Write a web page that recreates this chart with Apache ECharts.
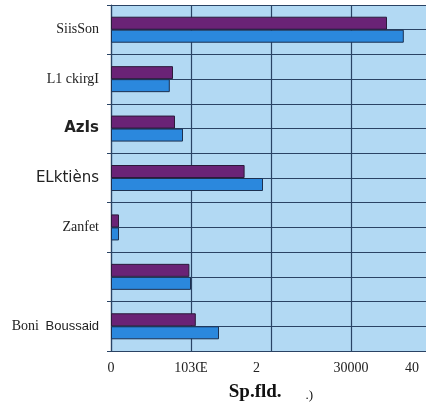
<!DOCTYPE html>
<html><head><meta charset="utf-8">
<script src="https://cdn.jsdelivr.net/npm/echarts@6/dist/echarts.min.js"></script>
<style>html,body{margin:0;padding:0;background:#fff}#c{width:426px;height:404px}</style>
</head><body><div id="c"></div>
<script>
const categories = ["SiisSon", "L1 ckirgI", "AzIs", "ELktièns", "Zanfet", "", "Boni Boussaid"];
const purpleValues = [34500, 7750, 8000, 16700, 1000, 9800, 10600];
const blueValues = [36600, 7350, 9000, 19000, 1000, 10000, 13500];
const tickLabels = ["0", "103Œ", "2", "30000", "40"];
const axisTitle = "Sp.fld.";
const axisTitleSuffix = ".)";
const labelStyleKeys = ["serif", "serif", "sansb", "sans", "serif", "serif", "mixed"];

const chart = echarts.init(document.getElementById('c'), null, {renderer: 'canvas'});
const gridColor = '#2a4364';
const serif = '"Liberation Serif", "DejaVu Serif", serif';
const sans = '"DejaVu Sans", "Liberation Sans", sans-serif';

chart.setOption({
  animation: false,
  backgroundColor: '#ffffff',
  grid: {left: 111, top: 5, width: 320, height: 346, outerBoundsMode: 'none', containLabel: false,
         show: true, backgroundColor: '#b2d9f3', borderWidth: 0},
  xAxis: {
    type: 'value', min: 0, max: 40000, interval: 10000,
    axisLine: {show: true, lineStyle: {color: gridColor, width: 1.2}},
    axisTick: {show: true, length: 4, lineStyle: {color: gridColor}},
    splitLine: {show: true, lineStyle: {color: gridColor, width: 1.2}},
    axisLabel: {
      margin: 10,
      color: '#222',
      fontFamily: serif,
      fontSize: 14,
      formatter: function (v) {
        const i = Math.round(v / 10000);
        const t = tickLabels[i];
        if (i === 2) return '{p2|' + t + '}';
        if (i === 4) return '{p4|' + t + '}';
        return '{n|' + t + '}';
      },
      rich: {
        n: {fontFamily: serif, fontSize: 14, color: '#222'},
        p2: {fontFamily: serif, fontSize: 14, color: '#222', padding: [0, 29, 0, 0]},
        p4: {fontFamily: serif, fontSize: 14, color: '#222', padding: [0, 38, 0, 0]}
      }
    },
    name: '{b|' + axisTitle + '}{s|' + axisTitleSuffix + '}',
    nameLocation: 'middle',
    nameGap: 32,
    nameTextStyle: {
      rich: {
        b: {fontFamily: serif, fontWeight: 'bold', fontSize: 19, color: '#111'},
        s: {fontFamily: serif, fontSize: 13, color: '#111', padding: [6, 0, 0, 24]}
      }
    }
  },
  yAxis: [{
    type: 'category',
    data: categories,
    inverse: true,
    axisLine: {show: true, lineStyle: {color: gridColor, width: 1.2}},
    axisTick: {show: true, length: 4, lineStyle: {color: gridColor}},
    splitLine: {show: false},
    axisLabel: {
      margin: 12,
      interval: 0,
      formatter: function (v, i) {
        const k = labelStyleKeys[i];
        if (k === 'mixed') {
          const parts = v.split(' ');
          return '{serif|' + parts[0] + '}  {sans13|' + parts.slice(1).join(' ') + '}';
        }
        return '{' + k + '|' + v + '}';
      },
      rich: {
        serif: {fontFamily: serif, fontSize: 14, color: '#222'},
        sans: {fontFamily: sans, fontSize: 15, color: '#222'},
        sansb: {fontFamily: sans, fontSize: 15, fontWeight: 'bold', color: '#222'},
        sans13: {fontFamily: '"Liberation Sans", sans-serif', fontSize: 13, color: '#222'}
      }
    }
  }, {
    type: 'value', min: 0, max: 14, interval: 1, inverse: true,
    position: 'right',
    axisLine: {show: false}, axisTick: {show: false}, axisLabel: {show: false},
    splitLine: {show: true, lineStyle: {color: gridColor, width: 1.2}}
  }],
  series: [{
    type: 'bar', data: purpleValues, yAxisIndex: 0, barWidth: 13, barGap: '0%',
    itemStyle: {color: '#6a2376', borderColor: '#2b1a3a', borderWidth: 1}, z: 3
  }, {
    type: 'bar', data: blueValues, yAxisIndex: 0, barWidth: 13, barGap: '0%',
    itemStyle: {color: '#2b88dd', borderColor: '#1c3050', borderWidth: 1}, z: 3
  }]
});
</script></body></html>
